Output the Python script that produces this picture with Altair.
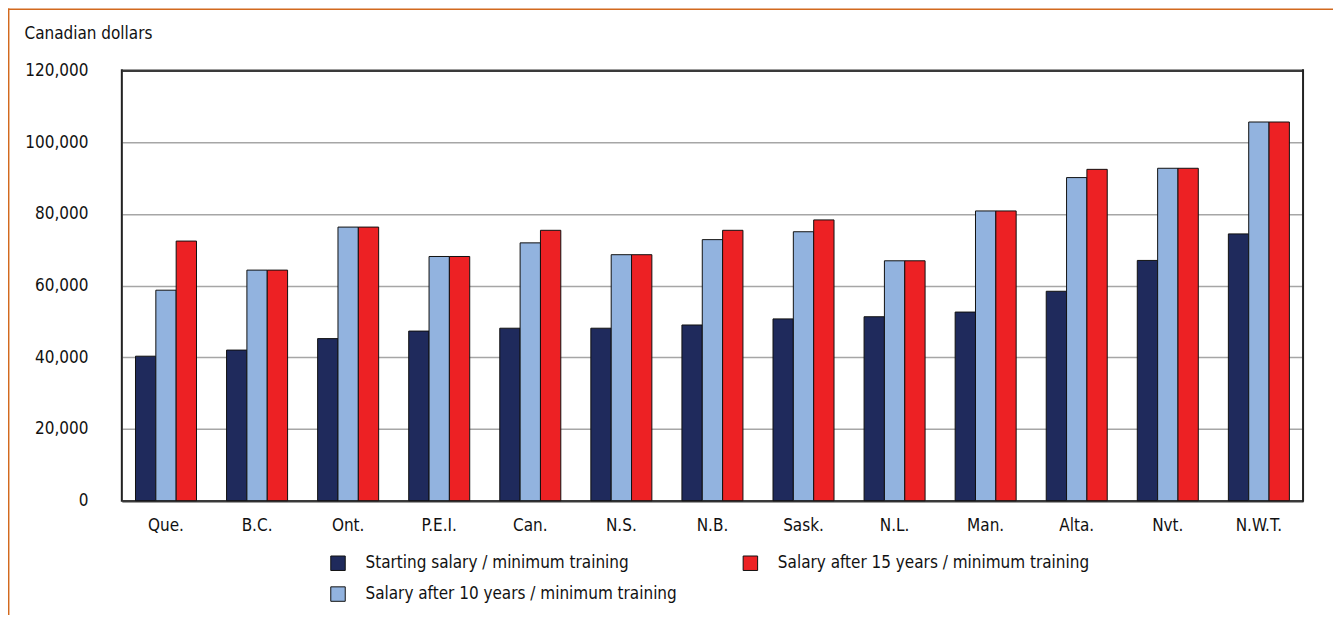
import altair as alt
import pandas as pd

categories = ["Que.", "B.C.", "Ont.", "P.E.I.", "Can.", "N.S.", "N.B.", "Sask.",
              "N.L.", "Man.", "Alta.", "Nvt.", "N.W.T."]
series = ["Starting salary / minimum training",
          "Salary after 10 years / minimum training",
          "Salary after 15 years / minimum training"]
starting = [40300, 42000, 45200, 47300, 48100, 48100, 49000, 50700, 51300, 52600, 58400, 67000, 74400]
after10 = [58700, 64300, 76300, 68100, 71900, 68600, 72800, 75000, 66900, 80800, 90100, 92700, 105600]
after15 = [72400, 64300, 76300, 68100, 75400, 68600, 75400, 78300, 66900, 80800, 92400, 92700, 105600]
colors = ["#1f2a5c", "#92b3df", "#ed2124"]
y_ticks = [0, 20000, 40000, 60000, 80000, 100000, 120000]

rows = []
for s, vals in zip(series, [starting, after10, after15]):
    for c, v in zip(categories, vals):
        rows.append({"region": c, "series": s, "value": v})
df = pd.DataFrame(rows)

FONT = "DejaVu Sans Condensed"
FS = 17
W, H = 1183, 431

legend_order = [series[0], series[2], series[1]]
legend_colors = [colors[0], colors[2], colors[1]]

grid_color = {"condition": {"test": "datum.value == 0 || datum.value == 120000",
                            "value": "#3a3a3a"},
              "value": "#a6a6a6"}
grid_width = {"condition": {"test": "datum.value == 0 || datum.value == 120000",
                            "value": 2.5},
              "value": 1.5}

bars = alt.Chart(df).mark_bar(stroke="#111111", strokeWidth=1).encode(
    x=alt.X("region:N", sort=categories,
            scale=alt.Scale(paddingInner=0.33, paddingOuter=0.15),
            axis=alt.Axis(title=None, labelAngle=0, ticks=False, domain=False,
                          labelPadding=17, labelFont=FONT, labelFontSize=FS,
                          labelColor="#111111", grid=False)),
    xOffset=alt.XOffset("series:N", sort=series, scale=alt.Scale(paddingInner=0, paddingOuter=0)),
    y=alt.Y("value:Q", scale=alt.Scale(domain=[0, 120000], nice=False),
            axis=alt.Axis(values=y_ticks, format=",.0f", ticks=False, domain=False,
                          labelPadding=34, labelFont=FONT, labelFontSize=FS,
                          labelColor="#111111", gridColor=grid_color, gridWidth=grid_width,
                          title="Canadian dollars", titleAngle=0, titleAlign="left",
                          titleBaseline="alphabetic", titleX=-98, titleY=-32,
                          titleFont=FONT, titleFontSize=FS, titleFontWeight="normal",
                          titleColor="#111111")),
    color=alt.Color("series:N",
                    scale=alt.Scale(domain=legend_order, range=legend_colors),
                    legend=alt.Legend(title=None, orient="none", legendX=208, legendY=485,
                                      columns=2, direction="horizontal",
                                      symbolType="square", symbolSize=210,
                                      symbolStrokeColor="#111111", symbolStrokeWidth=1,
                                      symbolOpacity=1,
                                      labelFont=FONT, labelFontSize=FS,
                                      labelColor="#111111", labelOffset=19,
                                      columnPadding=64, rowPadding=12,
                                      labelLimit=600)),
)

frame_df = pd.DataFrame([{"k": 0}])
top_border = alt.Chart(frame_df).mark_rule(color="#d2691e", strokeWidth=1.5).encode(
    x=alt.value(-114), x2=alt.value(1341 - 122), y=alt.value(-61.3))
left_border = alt.Chart(frame_df).mark_rule(color="#d2691e", strokeWidth=1.5).encode(
    x=alt.value(-113.3), y=alt.value(-62), y2=alt.value(618 - 70))
plot_left = alt.Chart(frame_df).mark_rule(color="#222222", strokeWidth=2).encode(
    x=alt.value(0), y=alt.value(-1), y2=alt.value(H + 1))
plot_right = alt.Chart(frame_df).mark_rule(color="#222222", strokeWidth=2).encode(
    x=alt.value(W), y=alt.value(-1), y2=alt.value(H + 1))

chart = alt.layer(bars, top_border, left_border, plot_left, plot_right).properties(
    width=W, height=H,
    autosize=alt.AutoSizeParams(type="none"),
    padding={"left": 114, "top": 62, "right": 30, "bottom": 114},
).configure_view(stroke="#2a2a2a", strokeWidth=2).configure(background="white")

chart.save("out.html", embed_options={"renderer": "svg", "actions": False})
